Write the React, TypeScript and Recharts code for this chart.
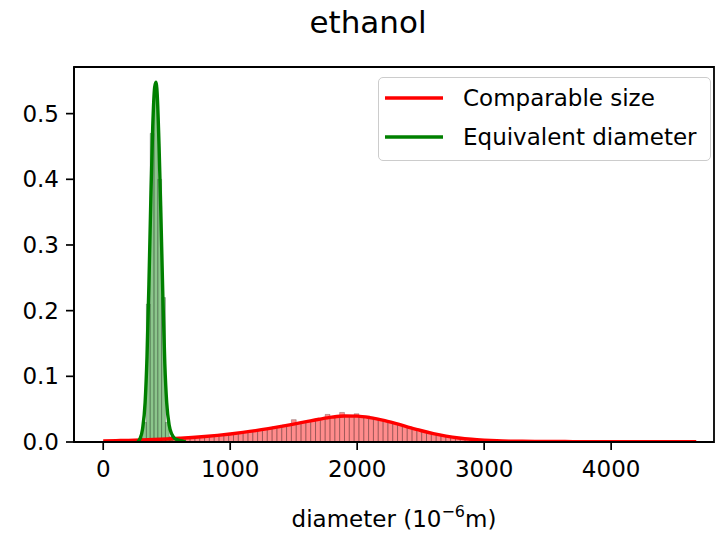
import React from 'react';
import { ComposedChart, Line, XAxis, YAxis, ReferenceArea, Legend } from 'recharts';

const chartTitle = 'ethanol';
const seriesNames = ['Comparable size', 'Equivalent diameter'];
const seriesColors = ['#ff0000', '#008000'];
const xTicks = [0, 1000, 2000, 3000, 4000];
const yTicks = [0, 0.1, 0.2, 0.3, 0.4, 0.5];
const xDomain = [-230, 4810];
const yDomain = [0, 0.571];

// histogram of "Comparable size" (bins of 38 starting at 0)
const comparableBinStart = 0;
const comparableBinWidth = 38;
const comparableHist = [
  0.0015, 0.0020, 0.0018, 0.0024, 0.0021, 0.0028, 0.0026, 0.0033, 0.0030, 0.0038,
  0.0036, 0.0043, 0.0041, 0.0050, 0.0048, 0.0058, 0.0056, 0.0068, 0.0066, 0.0078,
  0.0077, 0.0091, 0.0089, 0.0106, 0.0103, 0.0121, 0.0119, 0.0139, 0.0137, 0.0160,
  0.0156, 0.0180, 0.0177, 0.0204, 0.0200, 0.0230, 0.0226, 0.0258, 0.0252, 0.0340,
  0.0280, 0.0296, 0.0322, 0.0318, 0.0352, 0.0348, 0.0420, 0.0375, 0.0395, 0.0450,
  0.0405, 0.0392, 0.0430, 0.0385, 0.0372, 0.0380, 0.0350, 0.0342, 0.0315, 0.0306,
  0.0278, 0.0268, 0.0236, 0.0226, 0.0195, 0.0186, 0.0157, 0.0148, 0.0122, 0.0116,
  0.0094, 0.0088, 0.0071, 0.0066, 0.0052, 0.0049, 0.0038, 0.0036, 0.0028, 0.0027,
  0.0021, 0.0020, 0.0016, 0.0015, 0.0013, 0.0012, 0.0010, 0.0011, 0.0009, 0.0009,
  0.0008, 0.0007, 0.0008, 0.0006, 0.0007, 0.0006, 0.0005, 0.0007, 0.0005, 0.0006,
  0.0005, 0.0004, 0.0006, 0.0004, 0.0005, 0.0004, 0.0005, 0.0003, 0.0005, 0.0004,
  0.0004, 0.0003, 0.0005, 0.0004, 0.0003, 0.0004, 0.0003, 0.0004, 0.0003, 0.0004,
  0.0003, 0.0003, 0.0004,
];

// histogram of "Equivalent diameter" (bins of 30 starting at 280)
const equivalentBinStart = 280;
const equivalentBinWidth = 30;
const equivalentHist = [0.006, 0.03, 0.21, 0.47, 0.54, 0.40, 0.22, 0.03, 0.008];

// KDE curves
const comparableKdeX = [
  0, 100, 200, 300, 400, 500, 600, 700, 800, 900, 1000, 1100, 1200, 1300, 1400, 1500,
  1600, 1700, 1800, 1900, 2000, 2100, 2200, 2300, 2400, 2500, 2600, 2700, 2800, 2900,
  3000, 3100, 3200, 3300, 3400, 3500, 3600, 3700, 3800, 3900, 4000, 4100, 4200, 4300,
  4400, 4500, 4600, 4670,
];
const comparableKdeY = [
  0.0016, 0.0020, 0.0025, 0.0031, 0.0038, 0.0046, 0.0056, 0.0068, 0.0083, 0.0101,
  0.0122, 0.0146, 0.0173, 0.0204, 0.0238, 0.0273, 0.0310, 0.0346, 0.0378, 0.0396,
  0.0394, 0.0372, 0.0333, 0.0283, 0.0228, 0.0175, 0.0128, 0.0090, 0.0061, 0.0041,
  0.0028, 0.0019, 0.0014, 0.0011, 0.0009, 0.0008, 0.0007, 0.0006, 0.0006, 0.0005,
  0.0005, 0.0005, 0.0005, 0.0004, 0.0004, 0.0004, 0.0004, 0.0003,
];
const equivalentKdeX = [
  270, 290, 310, 330, 345, 360, 375, 390, 405, 415, 425, 440, 455, 470, 485, 500,
  520, 540, 560, 590, 620, 650,
];
const equivalentKdeY = [
  0.0, 0.005, 0.02, 0.06, 0.13, 0.24, 0.37, 0.48, 0.54, 0.548, 0.53, 0.45, 0.34, 0.22,
  0.12, 0.06, 0.025, 0.012, 0.006, 0.003, 0.0015, 0.0,
];

const FONT = 'DejaVu Sans';

const comparableKde = comparableKdeX.map((x, i) => ({ x, y: comparableKdeY[i] }));
const equivalentKde = equivalentKdeX.map((x, i) => ({ x, y: equivalentKdeY[i] }));

const histAreas = (values: number[], start: number, width: number, color: string, key: string) =>
  values.map((v, i) => (
    <ReferenceArea
      key={`${key}-${i}`}
      x1={start + i * width}
      x2={start + (i + 1) * width}
      y1={0}
      y2={v}
      fill={color}
      fillOpacity={0.45}
      stroke="#000"
      strokeOpacity={0.3}
      strokeWidth={0.8}
      ifOverflow="visible"
    />
  ));

const LegendBox = (props: any) => {
  const payload = props.payload && props.payload.length ? props.payload : null;
  const items = seriesNames.map((name, i) => {
    const p = payload ? payload.find((q: any) => q.value === name) : null;
    return { name, color: p && p.color ? p.color : seriesColors[i] };
  });
  return (
    <div
      style={{
        boxSizing: 'border-box',
        width: 333,
        height: 84,
        border: '1.5px solid #cccccc',
        borderRadius: 5,
        background: 'rgba(255,255,255,0.8)',
        paddingLeft: 6,
        paddingTop: 1,
      }}
    >
      {items.map((it) => (
        <div key={it.name} style={{ display: 'flex', alignItems: 'center', height: 38.5 }}>
          <svg width={58} height={8} style={{ display: 'block' }}>
            <line x1={0} y1={4} x2={58} y2={4} stroke={it.color} strokeWidth={3.4} />
          </svg>
          <span style={{ marginLeft: 20, fontFamily: FONT, fontSize: 23, color: '#000', whiteSpace: 'nowrap' }}>
            {it.name}
          </span>
        </div>
      ))}
    </div>
  );
};

const XLabel = (props: any) => {
  const vb = props.viewBox || { x: 74, y: 442, width: 640, height: 60 };
  const cx = vb.x + vb.width / 2;
  return (
    <text x={cx} y={527} textAnchor="middle" fontFamily={FONT} fontSize={23} fill="#000">
      diameter (10
      <tspan dy={-10} fontSize={16}>−6</tspan>
      <tspan dy={10}>m)</tspan>
    </text>
  );
};

export default function App() {
  const tickStyle = { fontFamily: FONT, fontSize: 23, fill: '#000' };
  return (
    <div style={{ position: 'absolute', left: 0, top: 0, width: 716, height: 533, background: '#fff' }}>
      <div
        style={{
          position: 'absolute',
          left: 268,
          top: 7,
          width: 200,
          textAlign: 'center',
          fontFamily: FONT,
          fontSize: 31,
          lineHeight: '31px',
          color: '#000',
        }}
      >
        {chartTitle}
      </div>
      <ComposedChart
        width={716}
        height={533}
        margin={{ top: 67, right: 2, bottom: 31, left: 0 }}
        style={{ position: 'absolute', left: 0, top: 0 }}
      >
        <XAxis
          dataKey="x"
          type="number"
          domain={xDomain}
          ticks={xTicks}
          allowDataOverflow
          height={60}
          tick={tickStyle}
          tickSize={8}
          tickMargin={11}
          tickLine={{ stroke: '#000', strokeWidth: 1.7 }}
          axisLine={{ stroke: '#000', strokeWidth: 1.8 }}
          label={<XLabel />}
        />
        <YAxis
          type="number"
          domain={yDomain}
          ticks={yTicks}
          allowDataOverflow
          width={74}
          tick={tickStyle}
          tickSize={8}
          tickMargin={7}
          tickFormatter={(v: number) => v.toFixed(1)}
          tickLine={{ stroke: '#000', strokeWidth: 1.7 }}
          axisLine={{ stroke: '#000', strokeWidth: 1.8 }}
        />
        {histAreas(comparableHist, comparableBinStart, comparableBinWidth, seriesColors[0], 'c')}
        <Line
          data={comparableKde}
          dataKey="y"
          name={seriesNames[0]}
          type="monotone"
          stroke={seriesColors[0]}
          strokeWidth={3.4}
          dot={false}
          activeDot={false}
          isAnimationActive={false}
          legendType="line"
        />
        {histAreas(equivalentHist, equivalentBinStart, equivalentBinWidth, seriesColors[1], 'e')}
        <Line
          data={equivalentKde}
          dataKey="y"
          name={seriesNames[1]}
          type="monotone"
          stroke={seriesColors[1]}
          strokeWidth={3.4}
          dot={false}
          activeDot={false}
          isAnimationActive={false}
          legendType="line"
        />
        <ReferenceArea
          x1={xDomain[0]}
          x2={xDomain[1]}
          y1={yDomain[0]}
          y2={yDomain[1]}
          fill="none"
          stroke="#000"
          strokeWidth={1.8}
          ifOverflow="visible"
        />
        <Legend
          layout="horizontal"
          verticalAlign="middle"
          align="center"
          content={<LegendBox />}
          wrapperStyle={{ position: 'absolute', left: 378, top: 77, width: 333, height: 84 }}
        />
      </ComposedChart>
    </div>
  );
}
